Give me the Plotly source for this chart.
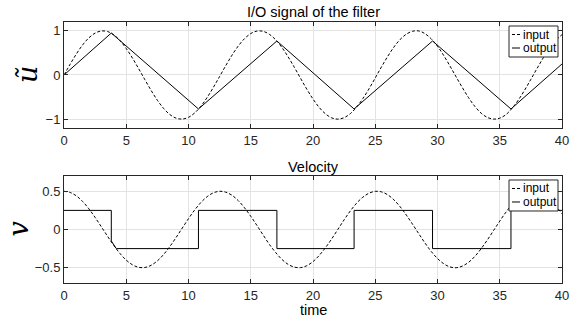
import plotly.graph_objects as go

# ---- data ----
t_in = [i * 0.5 for i in range(81)]
u_input = [0.000, 0.247, 0.479, 0.682, 0.841, 0.949, 0.997, 0.984, 0.909, 0.778,
           0.598, 0.382, 0.141, -0.108, -0.351, -0.572, -0.757, -0.895, -0.978, -0.999,
           -0.959, -0.859, -0.706, -0.508, -0.279, -0.033, 0.215, 0.451, 0.657, 0.823,
           0.938, 0.995, 0.989, 0.920, 0.798, 0.624, 0.412, 0.174, -0.075, -0.320,
           -0.544, -0.736, -0.880, -0.971, -1.000, -0.967, -0.875, -0.727, -0.537, -0.313,
           -0.066, 0.183, 0.420, 0.632, 0.804, 0.925, 0.991, 0.997, 0.935, 0.817,
           0.650, 0.441, 0.204, -0.044, -0.288, -0.516, -0.712, -0.863, -0.961, -0.999,
           -0.978, -0.897, -0.751, -0.564, -0.342, -0.099, 0.150, 0.390, 0.606, 0.786,
           0.913]
v_input = [0.500, 0.484, 0.439, 0.366, 0.270, 0.158, 0.035, -0.089, -0.208, -0.314,
           -0.401, -0.462, -0.495, -0.497, -0.468, -0.410, -0.327, -0.223, -0.105, 0.019,
           0.142, 0.256, 0.354, 0.430, 0.480, 0.500, 0.488, 0.447, 0.377, 0.284,
           0.173, 0.052, -0.073, -0.196, -0.301, -0.391, -0.456, -0.492, -0.499, -0.474,
           -0.420, -0.339, -0.238, -0.123, 0.002, 0.127, 0.243, 0.344, 0.422, 0.475,
           0.499, 0.492, 0.454, 0.388, 0.297, 0.188, 0.068, -0.056, -0.178, -0.288,
           -0.380, -0.448, -0.490, -0.500, -0.479, -0.428, -0.352, -0.252, -0.138, -0.014,
           0.110, 0.227, 0.330, 0.413, 0.470, 0.498, 0.494, 0.460, 0.398, 0.310,
           0.204]
t_out_u = [0, 3.8, 10.8, 17.1, 23.3, 29.6, 35.9, 40]
u_output = [0, 0.95, -0.77, 0.77, -0.77, 0.77, -0.77, 0.25]
t_out_v = [0, 3.8, 3.8, 4.2, 10.8, 10.8, 17.1, 17.1, 23.3, 23.3, 29.6, 29.6, 35.9, 35.9, 40]
v_output = [0.25, 0.25, -0.15, -0.25, -0.25, 0.25, 0.25, -0.25, -0.25, 0.25, 0.25, -0.25, -0.25, 0.25, 0.25]
x_ticks = [0, 5, 10, 15, 20, 25, 30, 35, 40]
u_ticks = [-1, 0, 1]
v_ticks = [-0.5, 0, 0.5]
legend_names = ["input", "output"]

AX = "#262626"
GRID = "#e3e3e3"
FONT = "Liberation Sans, Arial, sans-serif"
SERIF = "DejaVu Serif, Liberation Serif, serif"
DASH = "3px,2px"

fig = go.Figure()
fig.add_trace(go.Scatter(x=t_in, y=u_input, mode="lines", name="input",
                         line=dict(color="black", width=1, dash=DASH, shape="spline"), xaxis="x", yaxis="y"))
fig.add_trace(go.Scatter(x=t_out_u, y=u_output, mode="lines", name="output",
                         line=dict(color="black", width=1), xaxis="x", yaxis="y"))
fig.add_trace(go.Scatter(x=t_in, y=v_input, mode="lines", name="input",
                         line=dict(color="black", width=1, dash=DASH, shape="spline"), xaxis="x2", yaxis="y2"))
fig.add_trace(go.Scatter(x=t_out_v, y=v_output, mode="lines", name="output",
                         line=dict(color="black", width=1), xaxis="x2", yaxis="y2"))

axis_common = dict(showline=True, linecolor=AX, linewidth=1, mirror="ticks", ticks="inside", ticklen=4,
                   tickcolor=AX, showgrid=True, gridcolor=GRID, gridwidth=1, zeroline=False,
                   automargin=False, tickfont=dict(size=13, color=AX, family=FONT))

top_dom = [0.594, 1.0]
bot_dom = [0.0, 0.41]

shapes = []
annotations = []
for xa, ya in (("x", "y"), ("x2", "y2")):
    xr, yr = f"{xa} domain", f"{ya} domain"
    # legend box
    shapes.append(dict(type="rect", xref=xr, yref=yr, xsizemode="pixel", ysizemode="pixel",
                       xanchor=1, yanchor=1, x0=-53, x1=-4, y0=-4, y1=-35,
                       line=dict(color=AX, width=1), fillcolor="white", layer="above"))
    for k, name in enumerate(legend_names):
        yoff = -12.5 - 13.5 * k
        shapes.append(dict(type="line", xref=xr, yref=yr, xsizemode="pixel", ysizemode="pixel",
                           xanchor=1, yanchor=1, x0=-50, x1=-42, y0=yoff, y1=yoff,
                           line=dict(color="black", width=1, dash=("3px,2px" if k == 0 else "solid")),
                           layer="above"))
        annotations.append(dict(text=name, xref=xr, yref=yr, x=1, y=1, xanchor="left", yanchor="middle",
                                xshift=-40, yshift=yoff, showarrow=False, borderpad=0,
                                font=dict(size=12, color="black", family=FONT)))

annotations += [
    dict(text="I/O signal of the filter", xref="paper", yref="paper", x=0.5, y=top_dom[1], yanchor="bottom",
         yshift=0, showarrow=False, font=dict(size=14.5, color="black", family=FONT)),
    dict(text="Velocity", xref="paper", yref="paper", x=0.5, y=bot_dom[1], yanchor="bottom",
         yshift=-1, showarrow=False, font=dict(size=14.5, color="black", family=FONT)),
    dict(text="time", xref="paper", yref="paper", x=0.5, y=0, yanchor="top",
         yshift=-17, showarrow=False, font=dict(size=14.5, color="black", family=FONT)),
    dict(text="<i>ũ</i>", xref="paper", yref="paper", x=0, y=sum(top_dom) / 2, xanchor="center", yanchor="middle",
         xshift=-36, textangle=-90, showarrow=False, font=dict(size=27, color="black", family=SERIF)),
    dict(text="<i>v</i>", xref="paper", yref="paper", x=0, y=sum(bot_dom) / 2, xanchor="center", yanchor="middle",
         xshift=-46, textangle=-90, showarrow=False, font=dict(size=27, color="black", family=SERIF)),
]

fig.update_layout(
    width=573, height=322,
    margin=dict(l=64, r=11, t=22, b=39),
    paper_bgcolor="white", plot_bgcolor="white",
    font=dict(family=FONT, size=13, color=AX),
    xaxis=dict(domain=[0, 1], range=[0, 40], tickvals=x_ticks, anchor="y", **axis_common),
    yaxis=dict(domain=top_dom, range=[-1.2, 1.2], tickvals=u_ticks, anchor="x", **axis_common),
    xaxis2=dict(domain=[0, 1], range=[0, 40], tickvals=x_ticks, anchor="y2", **axis_common),
    yaxis2=dict(domain=bot_dom, range=[-0.7, 0.7], tickvals=v_ticks, anchor="x2", **axis_common),
    showlegend=False,
    shapes=shapes,
    annotations=annotations,
)

fig.write_html("out.html", config={"displayModeBar": False},
               post_script="document.body.style.margin='0px';document.body.style.overflow='hidden';")
